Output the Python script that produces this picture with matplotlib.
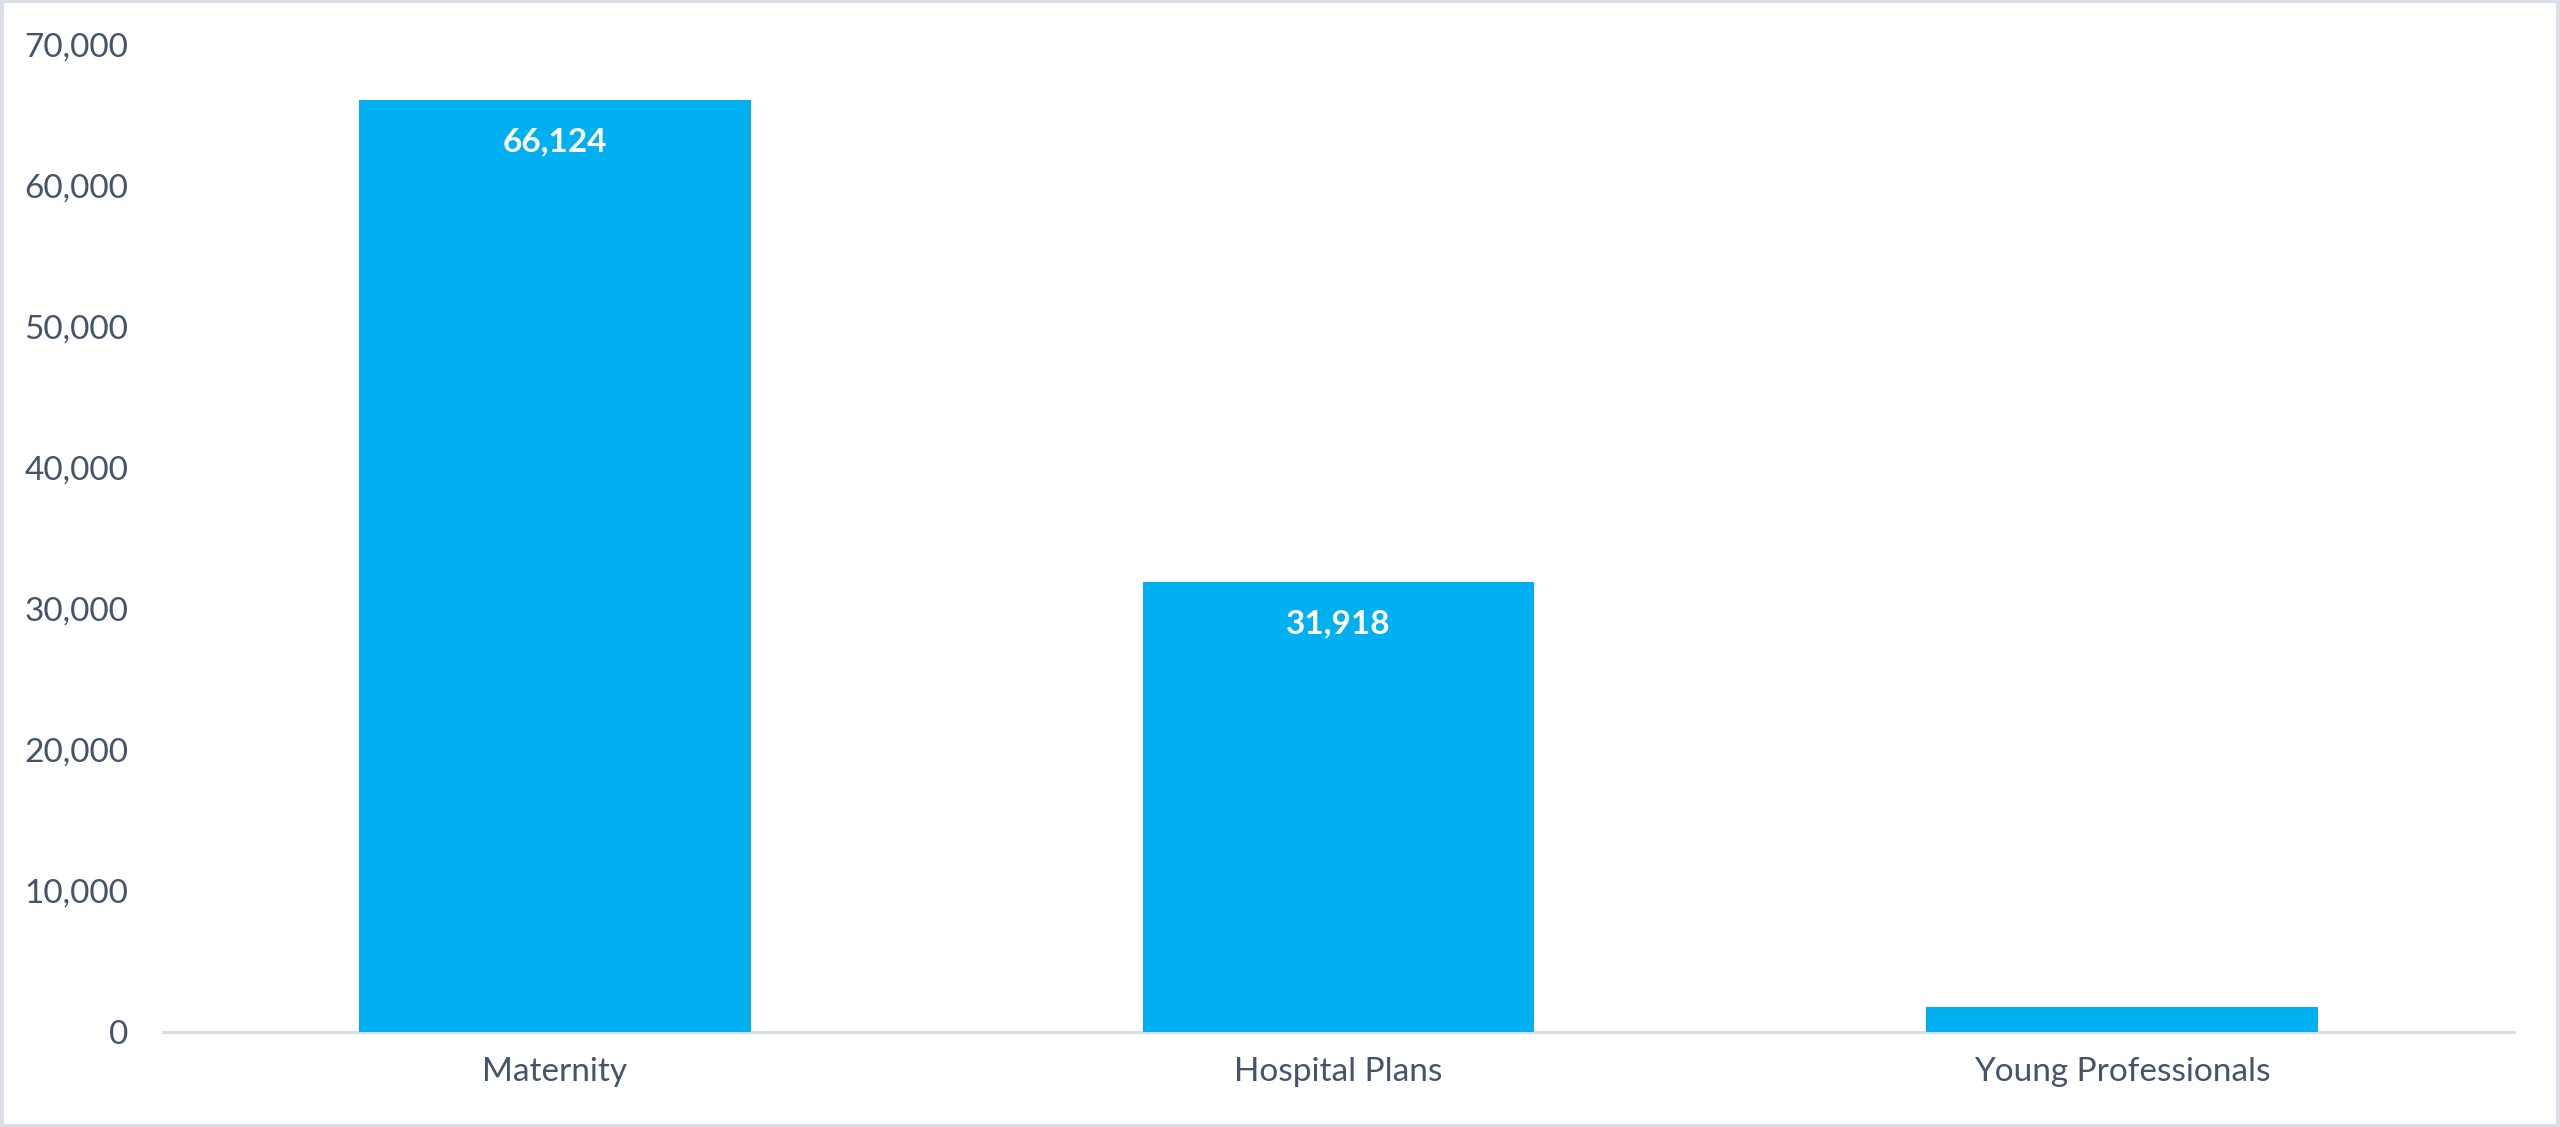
import matplotlib
matplotlib.use("Agg")
import matplotlib.pyplot as plt
from matplotlib.patches import Rectangle

categories = ["Maternity", "Hospital Plans", "Young Professionals"]
values = [66124, 31918, 1750]
y_ticks = [0, 10000, 20000, 30000, 40000, 50000, 60000, 70000]

bar_color = "#00B0F0"
text_color = "#44546A"
line_color = "#D9DEE6"

plt.rcParams['font.family'] = ['Lato', 'DejaVu Sans']

fig = plt.figure(figsize=(25.6, 11.27), dpi=100)
ax = fig.add_axes([163 / 2560, 95 / 1127, 2351 / 2560, 987 / 1127])

x = list(range(len(categories)))
bars = ax.bar(x, values, width=0.5, color=bar_color, zorder=2)

# value labels inside the top of each bar; the tiny bar has no room for one
for b, v in zip(bars, values):
    if v < 5000:
        continue
    ax.annotate(f"{v:,}", (b.get_x() + b.get_width() / 2, v),
                xytext=(0, -30), textcoords="offset points",
                ha="center", va="center", color="white",
                fontsize=24, fontweight="bold")

ax.set_xlim(-0.5, len(categories) - 0.5)
ax.set_ylim(0, 70000)
ax.set_xticks(x)
ax.set_xticklabels(categories)
ax.set_yticks(y_ticks)
ax.set_yticklabels([f"{t:,}" for t in y_ticks])
ax.tick_params(axis="both", length=0, labelsize=24, labelcolor=text_color)
ax.tick_params(axis="y", pad=25)
ax.tick_params(axis="x", pad=18)

for s in ["top", "right", "left"]:
    ax.spines[s].set_visible(False)
ax.spines["bottom"].set_color(line_color)
ax.spines["bottom"].set_linewidth(2.2)
ax.spines["bottom"].set_zorder(1)

# light frame around the whole picture
fig.patches.append(Rectangle((0.0006, 0.0013), 0.9988, 0.9974, transform=fig.transFigure,
                             fill=False, edgecolor=line_color, linewidth=3))

fig.savefig("out.png", dpi=100, facecolor="white")
